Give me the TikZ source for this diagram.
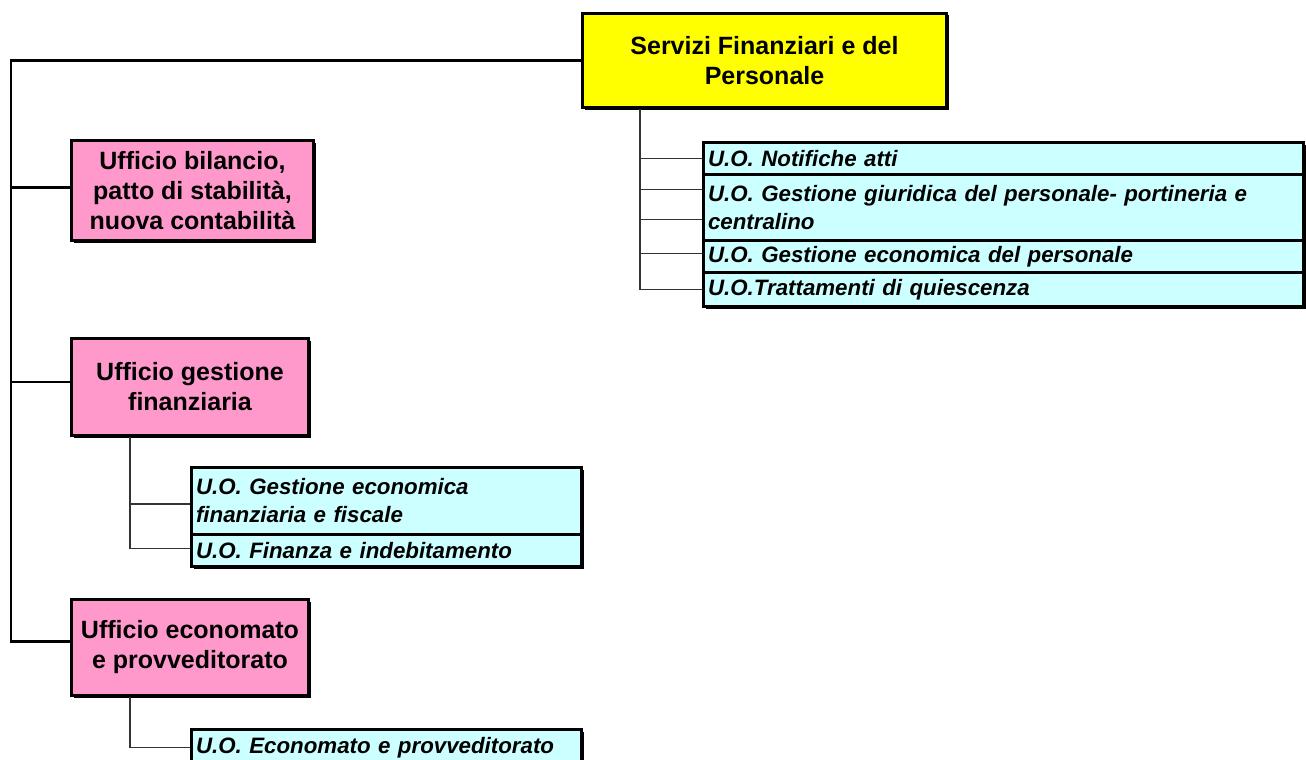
\documentclass[tikz,border=0pt]{standalone}
\usepackage{fontspec}
\setmainfont{Liberation Sans}
\usetikzlibrary{shadows}
\definecolor{yel}{HTML}{FFFF00}
\definecolor{pnk}{HTML}{FF99CC}
\definecolor{cyn}{HTML}{CCFFFF}
\begin{document}
\begin{tikzpicture}[x=1pt,y=-1pt,
  box/.style={draw, line width=3pt, inner sep=0pt, anchor=north west,
    drop shadow={shadow xshift=2pt,shadow yshift=-2pt,fill=black,opacity=1}},
  title/.style={box, align=center, font=\fontsize{25}{30}\selectfont\bfseries},
  uo/.style={box, fill=cyn, align=left, inner xsep=4.5pt,
    font=\fontsize{22.3}{28}\selectfont\bfseries\itshape},
  trunk/.style={line width=2.4pt, black},
  sub/.style={line width=1.5pt, black!80}]
\useasboundingbox (0,0) rectangle (1306,760);
% main boxes
\node[title, fill=yel, minimum width=364pt, minimum height=94pt] (yellow) at (581,12)
  {Servizi Finanziari e del\\Personale};
\node[title, fill=pnk, minimum width=242pt, minimum height=100pt] (p1) at (70,139)
  {Ufficio bilancio,\\patto di stabilità,\\nuova contabilità};
\node[title, fill=pnk, minimum width=237pt, minimum height=97pt] (p2) at (70,337)
  {Ufficio gestione\\finanziaria};
\node[title, fill=pnk, minimum width=237pt, minimum height=96pt] (p3) at (70,598)
  {Ufficio economato\\e provveditorato};
% top-right units
\node[uo, minimum width=600pt, minimum height=32pt, text width=591pt] (q1) at (702,141)
  {U.O. Notifiche atti};
\node[uo, minimum width=600pt, minimum height=66pt, text width=591pt] (q2) at (702,173)
  {U.O. Gestione giuridica del personale- portineria e\\centralino};
\node[uo, minimum width=600pt, minimum height=32pt, text width=591pt] (q3) at (702,239)
  {U.O. Gestione economica del personale};
\node[uo, minimum width=600pt, minimum height=34pt, text width=591pt] (q4) at (702,271)
  {U.O.Trattamenti di quiescenza};
% middle units
\node[uo, minimum width=390pt, minimum height=67pt, text width=381pt] (r1) at (190,466)
  {U.O. Gestione economica\\finanziaria e fiscale};
\node[uo, minimum width=390pt, minimum height=32pt, text width=381pt] (r2) at (190,533)
  {U.O. Finanza e indebitamento};
% bottom unit
\node[uo, minimum width=390pt, minimum height=36pt, text width=381pt] (s1) at (190,728)
  {U.O. Economato e provveditorato};
% trunk
\coordinate (tx) at (11,0);
\coordinate (ya) at (640,0);
\coordinate (pa) at (130,0);
\draw[trunk] (yellow.west) -- (yellow.west -| tx) -- ([yshift=6pt]p3.west -| tx) -- ([yshift=6pt]p3.west);
\draw[trunk] ([yshift=3pt]p1.west -| tx) -- ([yshift=3pt]p1.west);
\draw[trunk] ([yshift=5pt]p2.west -| tx) -- ([yshift=5pt]p2.west);
% sub connectors
\draw[sub] (yellow.south -| ya) -- (q4.west -| ya) -- (q4.west);
\draw[sub] (q1.west -| ya) -- (q1.west);
\draw[sub] ([yshift=18pt]q2.west -| ya) -- ([yshift=18pt]q2.west);
\draw[sub] ([yshift=-12pt]q2.west -| ya) -- ([yshift=-12pt]q2.west);
\draw[sub] ([yshift=3pt]q3.west -| ya) -- ([yshift=3pt]q3.west);
\draw[sub] (p2.south -| pa) -- ([yshift=2pt]r2.west -| pa) -- ([yshift=2pt]r2.west);
\draw[sub] ([yshift=-3pt]r1.west -| pa) -- ([yshift=-3pt]r1.west);
\draw[sub] (p3.south -| pa) -- (s1.west -| pa) -- (s1.west);
\end{tikzpicture}
\end{document}
